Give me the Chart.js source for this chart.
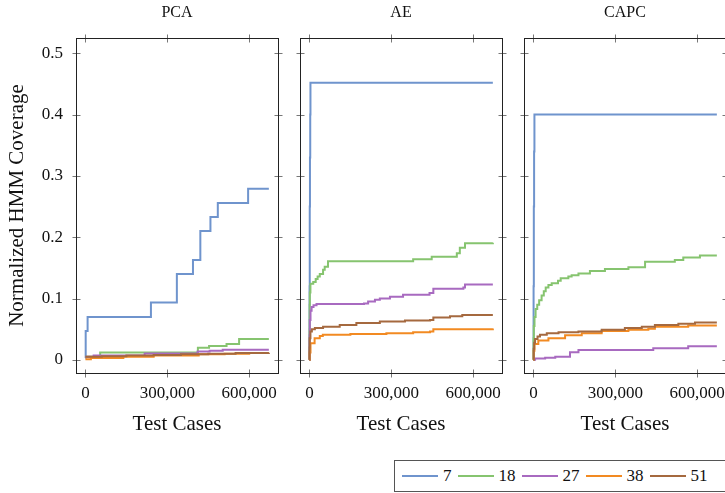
<!DOCTYPE html>
<html>
<head>
<meta charset="utf-8">
<script src="https://cdn.jsdelivr.net/npm/chart.js@4.4.1/dist/chart.umd.min.js"></script>
<style>
  html, body { margin: 0; padding: 0; width: 725px; height: 493px; overflow: hidden; background: #fff; }
  canvas { position: absolute; top: 0; }
  #legend {
    position: absolute; left: 394px; top: 460px; width: 360px; height: 32px;
    box-sizing: border-box; border: 1px solid #555; background: #fff;
    display: flex; align-items: center; padding-left: 7px;
    font-family: "Liberation Serif", "DejaVu Serif", serif; font-size: 17px; color: #111;
  }
  #legend .sw { display: inline-block; width: 36px; height: 2px; margin-right: 5px; }
  #legend .lb { margin-right: 6px; }
</style>
</head>
<body>
<canvas id="pca" width="290" height="493" style="left:0px"></canvas>
<canvas id="ae" width="224" height="493" style="left:290px"></canvas>
<canvas id="capc" width="224" height="493" style="left:514px"></canvas>
<div id="legend"></div>
<script>
// Series (number of hidden states) and their colours
const seriesNames = ['7', '18', '27', '38', '51'];
const seriesColors = ['#6f94cd', '#86c46f', '#a86ac0', '#f28a22', '#a5693f'];

// Panel titles and axis labels
const panelTitles = ['PCA', 'AE', 'CAPC'];
const xTitle = 'Test Cases';
const yTitle = 'Normalized HMM Coverage';

// Tick values
const xTicks = [0, 300000, 600000];
const yTicks = [0, 0.1, 0.2, 0.3, 0.4, 0.5];

// Coverage curves: [test cases, normalized coverage]
const pca7  = [[0,0.003],[1000,0.047],[8000,0.070],[240000,0.0935],[335000,0.140],[394000,0.163],[421000,0.210],[458000,0.233],[485000,0.256],[596000,0.279],[672000,0.279]];
const pca18 = [[0,0.005],[54000,0.012],[412000,0.0195],[453000,0.0225],[517000,0.026],[563000,0.034],[672000,0.034]];
const pca27 = [[0,0.005],[30000,0.007],[217000,0.0105],[411000,0.0135],[455000,0.015],[503000,0.0165],[672000,0.0165]];
const pca38 = [[0,0.001],[20000,0.003],[139000,0.005],[250000,0.007],[415000,0.009],[510000,0.010],[600000,0.011],[672000,0.011]];
const pca51 = [[0,0.005],[60000,0.006],[150000,0.007],[250000,0.008],[350000,0.009],[450000,0.010],[550000,0.011],[672000,0.0115]];

const ae7  = [[0,0],[500,0.12],[1200,0.25],[2000,0.33],[3000,0.40],[3800,0.452],[672000,0.452]];
const ae18 = [[0,0],[300,0.05],[800,0.09],[1500,0.11],[3700,0.124],[14000,0.127],[23000,0.132],[30000,0.136],[38000,0.140],[50000,0.147],[56000,0.152],[68000,0.161],[380000,0.164],[448000,0.168],[540000,0.174],[551000,0.183],[570000,0.190],[672000,0.191]];
const ae27 = [[0,0],[500,0.04],[1500,0.065],[4000,0.080],[8000,0.086],[15000,0.089],[26000,0.091],[200000,0.092],[215000,0.095],[240000,0.098],[258000,0.100],[295000,0.103],[343000,0.106],[440000,0.109],[454000,0.116],[564000,0.118],[570000,0.123],[672000,0.123]];
const ae38 = [[0,0],[1000,0.012],[4000,0.027],[19000,0.035],[38000,0.039],[49000,0.041],[150000,0.042],[282000,0.0435],[380000,0.045],[442000,0.046],[454000,0.050],[672000,0.051]];
const ae51 = [[0,0],[300,0.02],[1000,0.035],[3700,0.046],[9000,0.050],[20000,0.052],[50000,0.054],[111000,0.057],[172000,0.060],[258000,0.0625],[350000,0.064],[442000,0.065],[454000,0.069],[515000,0.071],[560000,0.073],[672000,0.073]];

const capc7  = [[0,0],[600,0.12],[1500,0.25],[2500,0.34],[3700,0.400],[672000,0.400]];
const capc18 = [[0,0],[500,0.035],[1500,0.055],[4000,0.070],[8000,0.083],[14000,0.090],[21000,0.097],[30000,0.105],[38000,0.112],[45000,0.118],[55000,0.122],[67000,0.125],[90000,0.129],[100000,0.133],[128000,0.136],[140000,0.138],[165000,0.141],[207000,0.145],[262000,0.148],[348000,0.151],[409000,0.160],[518000,0.163],[549000,0.167],[610000,0.170],[672000,0.170]];
const capc27 = [[0,0],[6000,0.002],[43000,0.0033],[80000,0.005],[134000,0.0125],[165000,0.016],[439000,0.019],[567000,0.022],[672000,0.022]];
const capc38 = [[0,0],[1000,0.015],[3700,0.026],[18000,0.0315],[55000,0.035],[116000,0.040],[177000,0.0435],[250000,0.047],[348000,0.049],[421000,0.0505],[445000,0.054],[567000,0.056],[672000,0.056]];
const capc51 = [[0,0],[1000,0.018],[3000,0.028],[6000,0.034],[15000,0.038],[24000,0.041],[49000,0.0435],[92000,0.045],[165000,0.046],[250000,0.049],[335000,0.052],[397000,0.054],[445000,0.057],[531000,0.0587],[592000,0.061],[672000,0.061]];

const panelSeries = [
  [pca7, pca18, pca27, pca38, pca51],
  [ae7, ae18, ae27, ae38, ae51],
  [capc7, capc18, capc27, capc38, capc51]
];

// Axis extents (padded around the data)
const X_MIN = -34500, X_MAX = 705500;
const Y_MIN = -0.0215, Y_MAX = 0.525;

const FONT = '"Liberation Serif", "DejaVu Serif", serif';
const TEXT = '#111';

const withCommas = v => String(Math.round(v)).replace(/\B(?=(\d{3})+(?!\d))/g, ',');

// Draws the box around the plot area and tick marks crossing every side
const framePlugin = {
  id: 'frame',
  afterDatasetsDraw(chart) {
    const { ctx, chartArea: a, scales: { x, y } } = chart;
    const L = Math.round(a.left) + 0.5, R = Math.round(a.right) + 0.5;
    const T = Math.round(a.top) + 0.5, B = Math.round(a.bottom) + 0.5;
    ctx.save();
    ctx.lineWidth = 1;
    ctx.strokeStyle = '#777';
    ctx.beginPath();
    x.ticks.forEach(t => {
      const p = Math.round(x.getPixelForValue(t.value)) + 0.5;
      ctx.moveTo(p, T - 4); ctx.lineTo(p, T + 4);
      ctx.moveTo(p, B - 4); ctx.lineTo(p, B + 4);
    });
    y.ticks.forEach(t => {
      const p = Math.round(y.getPixelForValue(t.value)) + 0.5;
      ctx.moveTo(L - 4, p); ctx.lineTo(L + 4, p);
      ctx.moveTo(R - 4, p); ctx.lineTo(R + 4, p);
    });
    ctx.stroke();
    ctx.strokeStyle = '#222';
    ctx.strokeRect(L, T, R - L, B - T);
    ctx.restore();
  }
};

function makePanel(id, idx, leftWidth) {
  const first = idx === 0;
  const datasets = panelSeries[idx].map((pts, i) => ({
    label: seriesNames[i],
    data: pts.map(p => ({ x: p[0], y: p[1] })),
    borderColor: seriesColors[i],
    backgroundColor: seriesColors[i],
    borderWidth: 2,
    pointRadius: 0,
    stepped: true,
    fill: false,
    order: -i
  }));
  return new Chart(document.getElementById(id), {
    type: 'line',
    data: { datasets },
    plugins: [framePlugin],
    options: {
      responsive: false,
      animation: false,
      devicePixelRatio: 1,
      layout: { padding: { left: 0, right: 12, top: 0, bottom: 0 } },
      plugins: { legend: { display: false }, tooltip: { enabled: false }, title: { display: false } },
      scales: {
        x: {
          type: 'linear', position: 'bottom', min: X_MIN, max: X_MAX,
          afterBuildTicks: s => { s.ticks = xTicks.map(v => ({ value: v })); },
          afterFit: s => { s.height = 120; },
          grid: { display: false, drawTicks: false },
          border: { display: false },
          ticks: { font: { family: FONT, size: 17 }, color: TEXT, padding: 10, maxRotation: 0, autoSkip: false, callback: v => withCommas(v) },
          title: { display: true, text: xTitle, font: { family: FONT, size: 21 }, color: TEXT, padding: { top: 0, bottom: 56 } }
        },
        top: {
          type: 'linear', position: 'top', min: X_MIN, max: X_MAX,
          afterFit: s => { s.height = 38; },
          grid: { display: false, drawTicks: false },
          border: { display: false },
          ticks: { display: false },
          title: { display: true, text: panelTitles[idx], font: { family: FONT, size: 16 }, color: TEXT, padding: { top: 3, bottom: 0 } }
        },
        y: {
          type: 'linear', position: 'left', min: Y_MIN, max: Y_MAX,
          afterBuildTicks: s => { s.ticks = yTicks.map(v => ({ value: v })); },
          afterFit: s => { s.width = leftWidth; },
          grid: { display: false, drawTicks: false },
          border: { display: false },
          ticks: { display: first, font: { family: FONT, size: 17 }, color: TEXT, padding: 13, callback: v => (v === 0 ? '0' : v.toFixed(1)) },
          title: { display: first, text: yTitle, font: { family: FONT, size: 21 }, color: TEXT, padding: { top: 5, bottom: 0 } }
        }
      }
    }
  });
}

makePanel('pca', 0, 76);
makePanel('ae', 1, 10);
makePanel('capc', 2, 10);

// Shared legend for all three panels
const legend = document.getElementById('legend');
seriesNames.forEach((name, i) => {
  const sw = document.createElement('span');
  sw.className = 'sw';
  sw.style.background = seriesColors[i];
  const lb = document.createElement('span');
  lb.className = 'lb';
  lb.textContent = name;
  legend.appendChild(sw);
  legend.appendChild(lb);
});
</script>
</body>
</html>
